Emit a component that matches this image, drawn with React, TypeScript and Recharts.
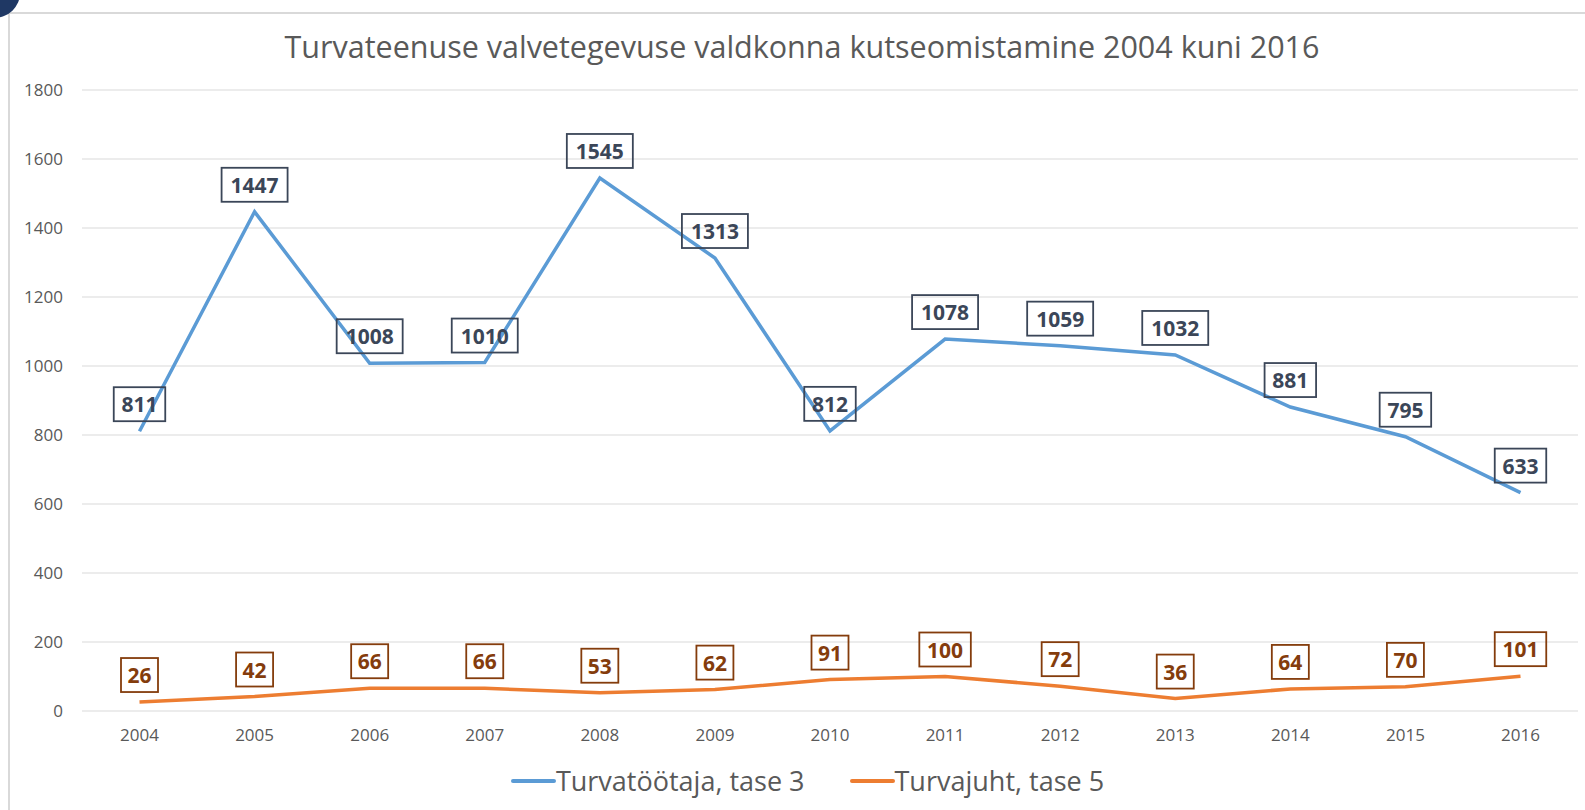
import React from "react";
import {
  LineChart,
  Line,
  XAxis,
  YAxis,
  CartesianGrid,
  Legend,
  LabelList,
} from "recharts";

const years = ["2004", "2005", "2006", "2007", "2008", "2009", "2010", "2011", "2012", "2013", "2014", "2015", "2016"];
const turvatootaja = [811, 1447, 1008, 1010, 1545, 1313, 812, 1078, 1059, 1032, 881, 795, 633];
const turvajuht = [26, 42, 66, 66, 53, 62, 91, 100, 72, 36, 64, 70, 101];
const yTicks = [0, 200, 400, 600, 800, 1000, 1200, 1400, 1600, 1800];

const data = years.map((year, i) => ({
  year,
  tase3: turvatootaja[i],
  tase5: turvajuht[i],
}));

const FONT = "'Open Sans', sans-serif";
const GRAY = "#595959";

const boxLabel = (color: string) => (props: any) => {
  const { x, y, value } = props;
  if (x == null || y == null) return null;
  const s = String(value);
  const w = s.length * 14.5 + 8;
  const h = 34;
  const cy = y - 27;
  return (
    <g>
      <rect x={x - w / 2} y={cy - h / 2} width={w} height={h} fill="none" stroke={color} strokeWidth={1.8} />
      <text
        x={x}
        y={cy}
        textAnchor="middle"
        dominantBaseline="central"
        fill={color}
        fontFamily={FONT}
        fontWeight={700}
        fontSize={21}
      >
        {s}
      </text>
    </g>
  );
};

const legendItems = [
  { label: "Turvatöötaja, tase 3", color: "#5B9BD5" },
  { label: "Turvajuht, tase 5", color: "#ED7D31" },
];

const renderLegend = () => (
  <div
    style={{
      display: "flex",
      justifyContent: "center",
      gap: 45,
      paddingLeft: 30,
      fontFamily: FONT,
      fontSize: 27,
      color: GRAY,
    }}
  >
    {legendItems.map((it) => (
      <div key={it.label} style={{ display: "flex", alignItems: "center" }}>
        <div style={{ width: 45, height: 4, background: it.color, borderRadius: 2 }} />
        <span>{it.label}</span>
      </div>
    ))}
  </div>
);

export default function App() {
  return (
    <div
      style={{
        position: "absolute",
        left: 0,
        top: 0,
        width: 1585,
        height: 810,
        overflow: "hidden",
        background: "#fff",
      }}
    >
      <div
        style={{
          position: "absolute",
          left: 8,
          top: 12,
          width: 1640,
          height: 860,
          border: "2px solid #D9D9D9",
        }}
      />
      <div
        style={{
          position: "absolute",
          left: -32,
          top: -32,
          width: 52,
          height: 50,
          borderRadius: "50%",
          background: "#1F3864",
        }}
      />
      <div
        style={{
          position: "absolute",
          left: 0,
          top: 26,
          width: 1585,
          paddingLeft: 19,
          boxSizing: "border-box",
          textAlign: "center",
          fontFamily: FONT,
          fontSize: 30.5,
          color: GRAY,
          lineHeight: "40px",
        }}
      >
        Turvateenuse valvetegevuse valdkonna kutseomistamine 2004 kuni 2016
      </div>
      <div style={{ position: "absolute", left: 0, top: 0 }}>
        <LineChart width={1585} height={810} data={data} margin={{ top: 90, right: 7, left: 0, bottom: 69 }}>
          <CartesianGrid vertical={false} stroke="#D9D9D9" strokeWidth={1} />
          <XAxis
            dataKey="year"
            height={30}
            padding={{ left: 57.5, right: 57.5 }}
            axisLine={false}
            tickLine={false}
            tickMargin={12}
            tick={{ fill: GRAY, fontSize: 17, fontFamily: FONT }}
          />
          <YAxis
            width={82}
            domain={[0, 1800]}
            ticks={yTicks}
            axisLine={false}
            tickLine={false}
            tickMargin={13}
            tick={{ fill: GRAY, fontSize: 17, fontFamily: FONT }}
          />
          <Legend
            layout="vertical"
            align="center"
            verticalAlign="middle"
            wrapperStyle={{ top: 762, left: 0, width: 1585 }}
            content={renderLegend}
          />
          <Line
            type="linear"
            dataKey="tase3"
            stroke="#5B9BD5"
            strokeWidth={3.5}
            dot={false}
            isAnimationActive={false}
          >
            <LabelList dataKey="tase3" content={boxLabel("#3B4658")} />
          </Line>
          <Line
            type="linear"
            dataKey="tase5"
            stroke="#ED7D31"
            strokeWidth={3.5}
            dot={false}
            isAnimationActive={false}
          >
            <LabelList dataKey="tase5" content={boxLabel("#843C0C")} />
          </Line>
        </LineChart>
      </div>
    </div>
  );
}
